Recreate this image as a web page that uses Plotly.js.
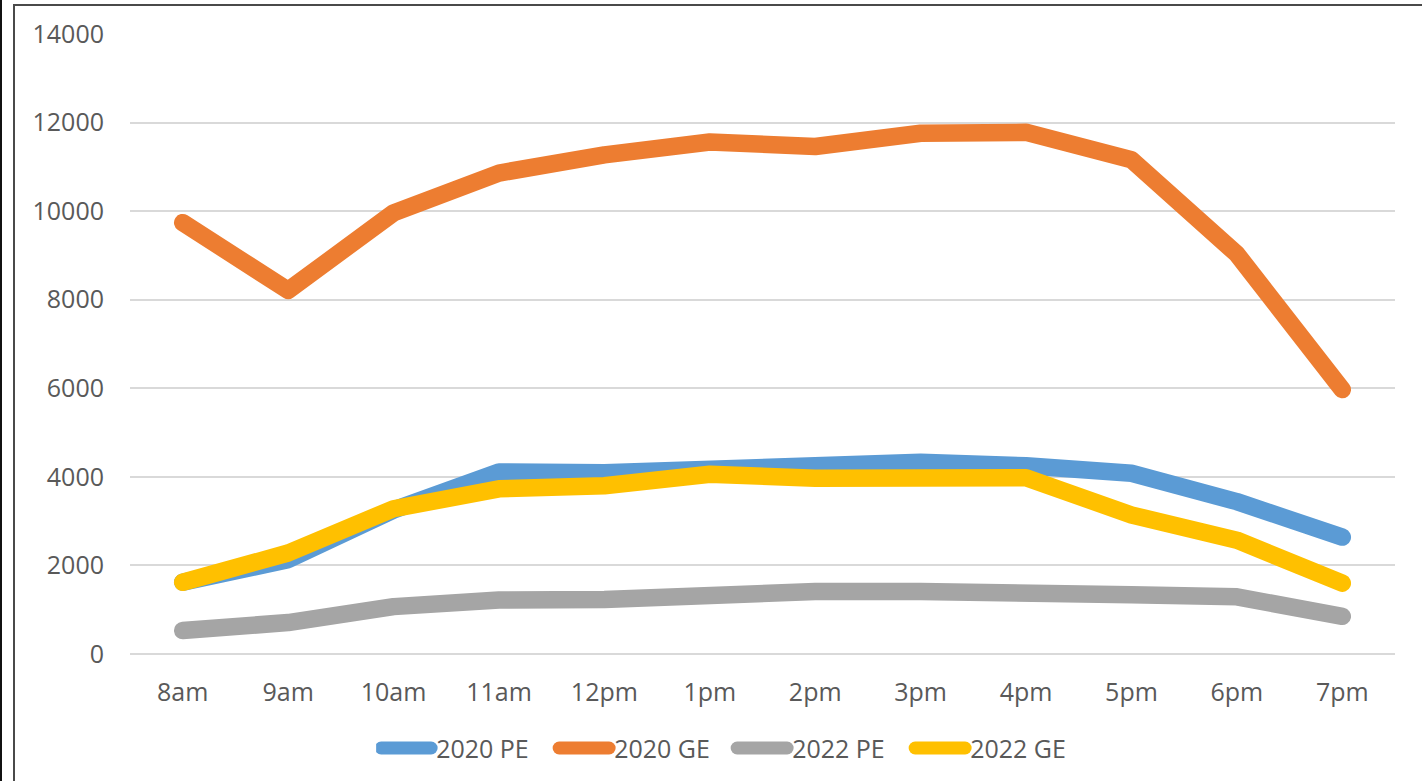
<!DOCTYPE html>
<html>
<head>
<meta charset="utf-8">
<script src="https://cdn.plot.ly/plotly-3.0.1.min.js"></script>
<style>
  html, body { margin: 0; padding: 0; background: #ffffff; overflow: hidden; }
  #wrap { position: relative; width: 1422px; height: 781px; }
  #chart { position: absolute; left: 0; top: 0; width: 1422px; height: 781px; }
  #frame { position: absolute; left: 13px; top: 4px; width: 1409px; height: 777px;
           border-left: 2px solid #4a4a4a; border-top: 2px solid #4a4a4a; pointer-events: none; box-sizing: border-box; }
  #strip { position: absolute; left: 0; top: 0; width: 2px; height: 781px; background: #111; pointer-events: none; }
  .scatterlayer .js-line, .legend .js-line { stroke-linecap: round !important; stroke-linejoin: round !important; }
  .legend .js-line { stroke-width: 13px !important; }
</style>
</head>
<body>
<div id="wrap">
  <div id="chart"></div>
  <div id="frame"></div>
  <div id="strip"></div>
</div>
<script>
const hours = ["8am", "9am", "10am", "11am", "12pm", "1pm", "2pm", "3pm", "4pm", "5pm", "6pm", "7pm"];
const pe2020 = [1620, 2130, 3250, 4110, 4090, 4200, 4310, 4330, 4250, 4080, 3440, 2640];
const ge2020 = [9740, 8210, 9960, 10860, 11270, 11560, 11460, 11760, 11780, 11160, 9030, 5970];
const pe2022 = [530, 710, 1070, 1220, 1230, 1340, 1410, 1410, 1410, 1340, 1290, 850];
const ge2022 = [1620, 2280, 3280, 3730, 3800, 4060, 3970, 3990, 3980, 3140, 2570, 1600];
const yTicks = [0, 2000, 4000, 6000, 8000, 10000, 12000, 14000];

const seriesNames = ["2020 PE", "2020 GE", "2022 PE", "2022 GE"];
const seriesData = [pe2020, ge2020, pe2022, ge2022];
const seriesColors = ["#5B9BD5", "#ED7D31", "#A5A5A5", "#FFC000"];

const traces = seriesData.map((vals, i) => ({
  type: "scatter",
  mode: "lines",
  x: hours,
  y: vals,
  name: seriesNames[i],
  line: { color: seriesColors[i], width: 17.5 },
  hoverinfo: "skip"
}));

const textColor = "#595959";
const fontFam = "'Open Sans', 'Noto Sans', sans-serif";

const layout = {
  width: 1422,
  height: 781,
  margin: { l: 130, r: 27, t: 34, b: 127, autoexpand: false },
  paper_bgcolor: "rgba(0,0,0,0)",
  plot_bgcolor: "#ffffff",
  font: { family: fontFam, size: 25, color: textColor },
  showlegend: true,
  legend: {
    orientation: "h",
    x: 0.476,
    xanchor: "center",
    y: -0.152,
    yanchor: "middle",
    font: { family: fontFam, size: 25, color: textColor },
    traceorder: "normal",
    itemwidth: 50,
    entrywidth: 113,
    bgcolor: "rgba(0,0,0,0)"
  },
  xaxis: {
    type: "category",
    range: [-0.5, 11.5],
    showgrid: false,
    zeroline: false,
    showline: false,
    ticks: "",
    tickfont: { family: fontFam, size: 25, color: textColor },
    ticklabelstandoff: 21,
    fixedrange: true
  },
  yaxis: {
    range: [0, 14000],
    tickvals: yTicks,
    ticktext: yTicks.map(String),
    showgrid: true,
    gridcolor: "#d9d9d9",
    gridwidth: 2,
    zeroline: true,
    zerolinecolor: "#d9d9d9",
    zerolinewidth: 2,
    showline: false,
    ticks: "",
    tickfont: { family: fontFam, size: 25, color: textColor },
    ticklabelstandoff: 25,
    fixedrange: true
  }
};

Plotly.newPlot("chart", traces, layout, { staticPlot: true, displayModeBar: false });
</script>
</body>
</html>
